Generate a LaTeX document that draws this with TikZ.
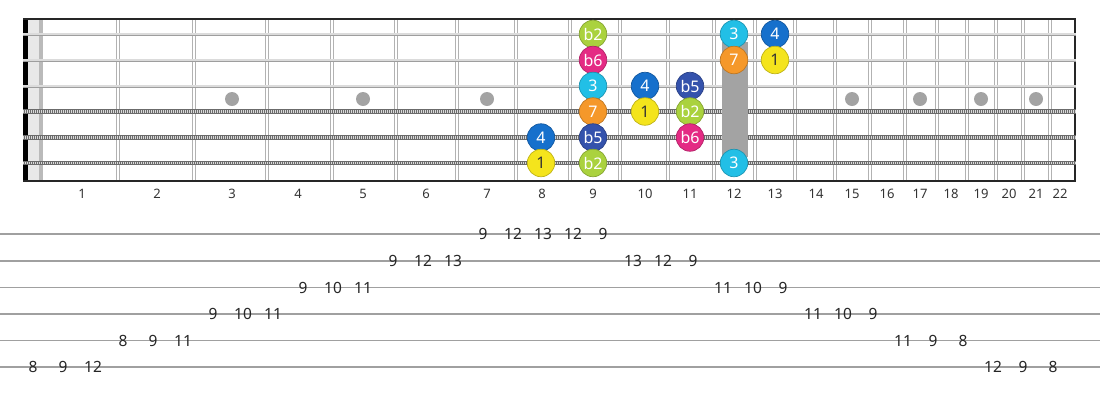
\documentclass[tikz,border=0pt]{standalone}
\usepackage{fontspec}
\setmainfont{Noto Sans}
\definecolor{fretgray}{HTML}{B2B2B2}
\definecolor{markgray}{HTML}{A3A3A3}
\definecolor{tabgray}{HTML}{A0A0A0}
\definecolor{cone}{HTML}{F4E41C}
\definecolor{ctwo}{HTML}{AAD23E}
\definecolor{cthree}{HTML}{22BFE6}
\definecolor{cfour}{HTML}{1670CC}
\definecolor{cfive}{HTML}{3452AC}
\definecolor{csix}{HTML}{E42B84}
\definecolor{cseven}{HTML}{F5982A}
\begin{document}
\begin{tikzpicture}[x=1pt,y=-1pt,
    fret/.style={draw=fretgray, line width=1.3pt},
    note/.style={circle, minimum size=27.5pt, inner sep=0pt, fill=#1, draw=#1!78!black,
        line width=0.7pt, text=white, font=\fontsize{16}{16}\selectfont},
    fretnum/.style={font=\fontsize{13}{13}\selectfont, text=black!80},
    tabnum/.style={font=\fontsize{15.5}{15.5}\selectfont, text=black!85, inner sep=0.5pt}]
    \useasboundingbox (0,0) rectangle (1100,400);

    \fill[black!9] (28,19) rectangle (39,181);
    \fill[black!27] (39,19) rectangle (42.5,181);

    \foreach \x in {118,194,267,332,396,457,516,570,620,668,714,755,795,835,870,905,937,967,996,1023,1050}{
        \draw[fret] (\x-1.7,19) -- (\x-1.7,181);
        \draw[fret] (\x+1.7,19) -- (\x+1.7,181);
    }

    \fill[black] (23,19) rectangle (28,181);
    \draw[black!85, line width=2pt] (23,19) -- (1075,19) -- (1075,181) -- (23,181);

    \foreach \x in {232,363,487,593,852,920,981,1036}
        \fill[markgray] (\x,99) circle (7);

    \foreach \y in {34,60,86}{
        \draw[black!38, line width=3pt] (23,\y) -- (1076,\y);
        \draw[black!14, line width=1.1pt] (23,\y) -- (1076,\y);
    }
    \foreach \y in {111.5,137.5,163}{
        \draw[black!58, line width=4.4pt] (23,\y) -- (1076,\y);
        \draw[black!15, line width=2.4pt, dash pattern=on 1pt off 1pt] (23,\y) -- (1076,\y);
    }

    \fill[markgray] (722,42) rectangle (748,157);

    \node[note=ctwo] (s1f9) at (593,34) {b2};
    \node[note=cthree] (s1f12) at (734,34) {3};
    \node[note=cfour] (s1f13) at (775,34) {4};
    \node[note=csix] (s2f9) at (593,60) {b6};
    \node[note=cseven] (s2f12) at (734,60) {7};
    \node[note=cone, text=black!80] (s2f13) at (775,60) {1};
    \node[note=cthree] (s3f9) at (593,86) {3};
    \node[note=cfour] (s3f10) at (645,86) {4};
    \node[note=cfive] (s3f11) at (690,86) {b5};
    \node[note=cseven] (s4f9) at (593,111.5) {7};
    \node[note=cone, text=black!80] (s4f10) at (645,111.5) {1};
    \node[note=ctwo] (s4f11) at (690,111.5) {b2};
    \node[note=cfour] (s5f8) at (541,137.5) {4};
    \node[note=cfive] (s5f9) at (593,137.5) {b5};
    \node[note=csix] (s5f11) at (690,137.5) {b6};
    \node[note=cone, text=black!80] (s6f8) at (541,163) {1};
    \node[note=ctwo] (s6f9) at (593,163) {b2};
    \node[note=cthree] (s6f12) at (734,163) {3};

    \foreach \n/\x in {1/82,2/157,3/232,4/298,5/363,6/426,7/487,8/542,9/593,10/645,11/690,
        12/734,13/775,14/816,15/852,16/887,17/920,18/951,19/981,20/1009,21/1036,22/1060}
        \node[fretnum] (fn\n) at (\x,194) {\n};

    \foreach \y in {234,261,287.5,314,340.5,367}
        \draw[tabgray, line width=1.6pt] (0,\y) -- (1100,\y);

    \foreach \k/\t/\y in {0/8/367,1/9/367,2/12/367,3/8/340.5,4/9/340.5,5/11/340.5,
        6/9/314,7/10/314,8/11/314,9/9/287.5,10/10/287.5,11/11/287.5,
        12/9/261,13/12/261,14/13/261,15/9/234,16/12/234,17/13/234,18/12/234,19/9/234,
        20/13/261,21/12/261,22/9/261,23/11/287.5,24/10/287.5,25/9/287.5,
        26/11/314,27/10/314,28/9/314,29/11/340.5,30/9/340.5,31/8/340.5,
        32/12/367,33/9/367,34/8/367}
        \node[tabnum] (tab\k) at ({33+30*\k},\y) {\t};
\end{tikzpicture}
\end{document}
